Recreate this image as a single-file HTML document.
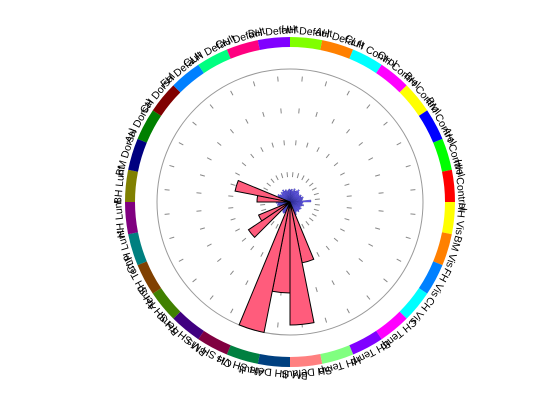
<!DOCTYPE html>
<html><head><meta charset="utf-8"><style>
html,body{margin:0;padding:0;background:#fff;width:560px;height:420px;overflow:hidden}
svg{display:block}
</style></head><body>
<svg id="chart" width="560" height="420" viewBox="0 0 560 420" xmlns="http://www.w3.org/2000/svg">
<g id="grid"></g>
<g id="blue"></g>
<g id="pink"></g>
<g id="ring"></g>
<g id="labels"></g>
</svg>
<script>
const categories = ["HH Default","AH Default","CLH Control","CH Control","BH Control","BM Control","AH Control","HH Control","HH Vis","BM Vis","FH Vis","CH Vis","CH Temp","BH Temp","HH Temp","SH Default","BM SH Default","AH SH Vis","CH SH Vis","BM SH Temp","BH SH Temp","AH SH Temp","CLH Lunt","HH Lunt","BH Lunt","BM Dorsal","AH Dorsal","CH Dorsal","FH Default","CLH Default","CH Default","BH Default"];
const ringColors = ["#80ff00","#ff8000","#00ffff","#ff00ff","#ffff00","#0000ff","#00ff00","#ff0000","#ffff00","#ff8000","#0080ff","#00ffff","#ff00ff","#8000ff","#80ff80","#ff8080","#004080","#008040","#800040","#400080","#408000","#804000","#008080","#800080","#808000","#000080","#008000","#800000","#0080ff","#00ff80","#ff0080","#8000ff"];
const pinkValues = [0,0,0,0,0,0,0,0,0,0,0,0,0,0,62,123,91,133,0,0,50,34,0,0,33,56,0,0,0,0,0,0];
const blueValues = [12,13,11,14,12,13,15,13,12,11,13,12,14,13,12,21,13,12,14,12,11,13,12,12,13,11,12,14,13,12,11,12,
                    13,12,11,14,12,13,12,11,13,14,12,12,11,13,12,14,13,12,11,12,13,14,12,11,13,12,14,12,13,11,12,13];
const cx=290, cy=202, rMax=133;
const NS="http://www.w3.org/2000/svg";
function rScale(v){return v;}
function pt(a,r){const t=a*Math.PI/180;return [cx+r*Math.sin(t), cy-r*Math.cos(t)];}
function wedge(a0,a1,r0,r1){
  const p0=pt(a0,r1),p1=pt(a1,r1),q1=pt(a1,r0),q0=pt(a0,r0);
  let d=`M${q0[0]},${q0[1]} L${p0[0]},${p0[1]} A${r1},${r1} 0 0 1 ${p1[0]},${p1[1]} L${q1[0]},${q1[1]}`;
  if(r0>0) d+=` A${r0},${r0} 0 0 0 ${q0[0]},${q0[1]}`;
  return d+"Z";
}
function mk(tag,attrs,parent){const e=document.createElementNS(NS,tag);for(const k in attrs)e.setAttribute(k,attrs[k]);parent.appendChild(e);return e;}
const grid=document.getElementById('grid');
const N=categories.length, step=360/N;
const circ=mk('circle',{cx:cx,cy:cy,r:rMax,fill:'none',stroke:'#999','stroke-width':1},grid);


for(let i=0;i<N;i++){
  const a=i*step+step/2;
  const p=pt(a,rMax);
  const l=mk('line',{x1:cx,y1:cy,x2:p[0],y2:p[1],stroke:'#888','stroke-width':1,'stroke-dasharray':'5 27','stroke-dashoffset':'-25'},grid);
  
  
}
const blue=document.getElementById('blue');
const bstep=360/blueValues.length;
blueValues.forEach((v,i)=>{
  const p=mk('path',{d:wedge(i*bstep,(i+1)*bstep,0,rScale(v)),fill:'#6a5ef0',stroke:'#2a2a90','stroke-width':0.35},blue);
  
  
});
const pink=document.getElementById('pink');
pinkValues.forEach((v,i)=>{
  if(v<=0)return;
  const p=mk('path',{d:wedge(i*step,(i+1)*step,0,rScale(v)),fill:'#ff5c7c',stroke:'#000','stroke-width':1},pink);
  
  
});
const ring=document.getElementById('ring'), labels=document.getElementById('labels');
ringColors.forEach((c,i)=>{
  const p=mk('path',{d:wedge(i*step,(i+1)*step,155,165),fill:c,stroke:'none'},ring);
  
  
  const a=i*step+step/2;
  const t=mk('text',{x:cx,y:cy-168,'text-anchor':'middle','font-family':'Liberation Sans Narrow, Liberation Sans, sans-serif','font-size':10.5,fill:'#000',transform:`rotate(${a} ${cx} ${cy})`},labels);
  t.textContent=categories[i];
  
  
});
</script>
</body></html>
